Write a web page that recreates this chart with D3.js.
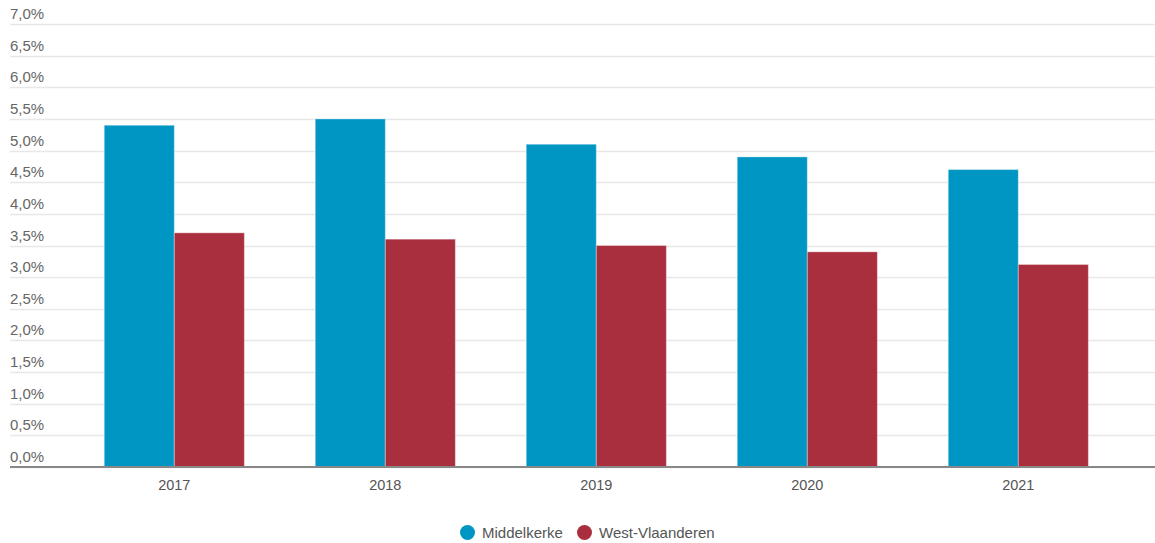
<!DOCTYPE html>
<html>
<head>
<meta charset="utf-8">
<script src="https://cdn.jsdelivr.net/npm/d3@7"></script>
<style>
  body { margin: 0; background: #fff; }
  text { font-family: Arial, "Liberation Sans", sans-serif; }
</style>
</head>
<body>
<div id="chart"></div>
<script>
// data
const years = ["2017", "2018", "2019", "2020", "2021"];
const series = ["Middelkerke", "West-Vlaanderen"];
const middelkerke = [5.4, 5.5, 5.1, 4.9, 4.7];
const westVlaanderen = [3.7, 3.6, 3.5, 3.4, 3.2];
const yTicks = [0, 0.5, 1, 1.5, 2, 2.5, 3, 3.5, 4, 4.5, 5, 5.5, 6, 6.5, 7];

const colors = ["#0096c3", "#a92f3e"];

const W = 1155, H = 543;

const svg = d3.select("#chart")
  .append("svg")
    .attr("width", W)
    .attr("height", H);

const data = years.map((y, i) => ({year: y, values: [middelkerke[i], westVlaanderen[i]]}));

// scales
const y = d3.scaleLinear()
  .domain([0, 7])
  .range([467, 24]);

const x = d3.scaleBand()
  .domain(years)
  .range([68.8, 1123.8])
  .paddingInner(0.336)
  .paddingOuter(0.168);

const xSub = d3.scaleBand()
  .domain(series)
  .range([0, x.bandwidth()]);

const fmt = d => d3.format(".1f")(d).replace(".", ",") + "%";

// gridlines + labels
const grid = svg.append("g");
grid.selectAll("line")
  .data(yTicks)
  .join("line")
    .attr("x1", 10)
    .attr("x2", W)
    .attr("y1", d => Math.round(y(d)) + 0.5)
    .attr("y2", d => Math.round(y(d)) + 0.5)
    .attr("stroke", "#e8e8e8")
    .attr("stroke-width", 1.5);

grid.selectAll("text")
  .data(yTicks)
  .join("text")
    .attr("x", 10)
    .attr("y", d => y(d) - 5)
    .attr("font-size", 15)
    .attr("fill", "#666")
    .text(fmt);

// bars
svg.append("g")
  .selectAll("g")
  .data(data)
  .join("g")
    .attr("transform", d => `translate(${x(d.year)},0)`)
  .selectAll("rect")
  .data(d => d.values.map((v, i) => ({key: series[i], value: v, i: i})))
  .join("rect")
    .attr("x", d => xSub(d.key))
    .attr("y", d => y(d.value))
    .attr("width", xSub.bandwidth())
    .attr("height", d => y(0) - y(d.value))
    .attr("fill", d => colors[d.i])
    .attr("stroke", "rgba(255,255,255,0.35)")
    .attr("stroke-width", 1);

// x axis baseline
svg.append("line")
  .attr("x1", 10)
  .attr("x2", W)
  .attr("y1", 467)
  .attr("y2", 467)
  .attr("stroke", "#888")
  .attr("stroke-width", 2);

// x labels
svg.append("g")
  .selectAll("text")
  .data(years)
  .join("text")
    .attr("x", d => x(d) + x.bandwidth() / 2)
    .attr("y", 489.5)
    .attr("text-anchor", "middle")
    .attr("font-size", 14.5)
    .attr("fill", "#555")
    .text(d => d);

// legend
const legendX = [467.5, 584.5];
const legend = svg.append("g")
  .selectAll("g")
  .data(series)
  .join("g")
    .attr("transform", (d, i) => `translate(${legendX[i]},532.5)`);

legend.append("circle")
  .attr("r", 7.5)
  .attr("fill", (d, i) => colors[i]);

legend.append("text")
  .attr("x", 14.5)
  .attr("y", 5.5)
  .attr("font-size", 15)
  .attr("fill", "#555")
  .text(d => d);
</script>
</body>
</html>
